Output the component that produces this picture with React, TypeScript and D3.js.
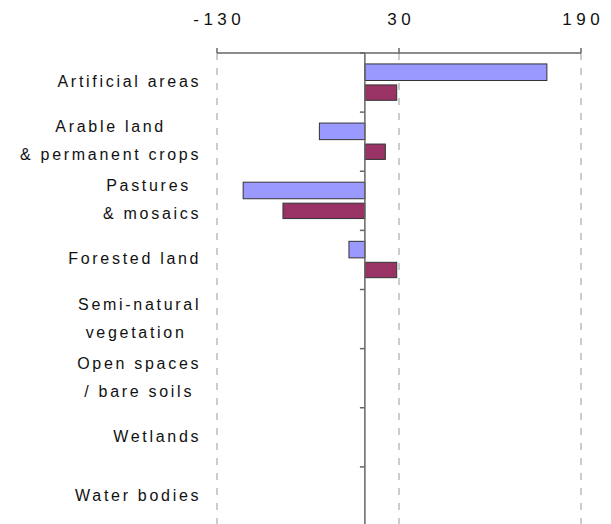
import React, { useEffect, useRef } from "react";
import * as d3 from "d3";

const categories: string[][] = [
  ["Artificial areas"],
  ["Arable land", "& permanent crops"],
  ["Pastures ", "& mosaics"],
  ["Forested land"],
  ["Semi-natural", "vegetation "],
  ["Open spaces", "/ bare soils"],
  ["Wetlands"],
  ["Water bodies"],
];
const seriesA: (number | null)[] = [160, -40, -107, -14, null, null, null, null];
const seriesB: (number | null)[] = [28, 18, -72, 28, null, null, null, null];
const tickValues: number[] = [-130, 30, 190];

const W = 611;
const H = 524;
const FONT = "'Liberation Sans', Arial, sans-serif";

export default function App() {
  const ref = useRef<SVGSVGElement | null>(null);

  useEffect(() => {
    const svg = d3.select(ref.current);
    svg.selectAll("*").remove();

    const x = d3.scaleLinear().domain([-130, 190]).range([217, 581]);
    const y = d3
      .scaleBand<number>()
      .domain(categories.map((_, i) => i))
      .range([53, 526])
      .paddingInner(0)
      .paddingOuter(0);
    const bw = y.bandwidth();

    // gridlines
    svg
      .append("g")
      .selectAll("line")
      .data(tickValues)
      .join("line")
      .attr("x1", (d) => x(d))
      .attr("x2", (d) => x(d))
      .attr("y1", 53)
      .attr("y2", H)
      .attr("stroke", "#999")
      .attr("stroke-width", 1)
      .attr("stroke-dasharray", "7,8");

    // bars
    const bars = svg.append("g");
    const drawSeries = (vals: (number | null)[], off: number, h: number, fill: string) => {
      bars
        .selectAll(null)
        .data(vals.map((v, i) => ({ v, i })).filter((d) => d.v !== null))
        .join("rect")
        .attr("x", (d) => Math.min(x(0), x(d.v as number)))
        .attr("width", (d) => Math.abs(x(d.v as number) - x(0)))
        .attr("y", (d) => (y(d.i) as number) + off * bw)
        .attr("height", h * bw)
        .attr("fill", fill)
        .attr("stroke", "#333")
        .attr("stroke-width", 1);
    };
    drawSeries(seriesA, 0.185, 0.28, "#9999FF");
    drawSeries(seriesB, 0.54, 0.26, "#993366");

    // top axis
    const axG = svg.append("g");
    axG
      .append("line")
      .attr("x1", x(-130))
      .attr("x2", x(190))
      .attr("y1", 53)
      .attr("y2", 53)
      .attr("stroke", "#666")
      .attr("stroke-width", 1.5);
    axG
      .selectAll("line.t")
      .data(tickValues)
      .join("line")
      .attr("class", "t")
      .attr("x1", (d) => x(d))
      .attr("x2", (d) => x(d))
      .attr("y1", 48)
      .attr("y2", 53)
      .attr("stroke", "#666")
      .attr("stroke-width", 1.5);
    const LS_T = 4.5;
    axG
      .selectAll("text")
      .data(tickValues)
      .join("text")
      .attr("x", (d) => x(d) + LS_T / 2)
      .attr("y", 24.5)
      .attr("text-anchor", "middle")
      .attr("font-family", FONT)
      .attr("font-size", 17)
      .attr("letter-spacing", LS_T)
      .attr("fill", "#111")
      .text((d) => String(d));

    // y axis
    const yG = svg.append("g");
    yG.append("line")
      .attr("x1", x(0))
      .attr("x2", x(0))
      .attr("y1", 53)
      .attr("y2", H)
      .attr("stroke", "#666")
      .attr("stroke-width", 1.5);
    yG.selectAll("line.t")
      .data(d3.range(categories.length + 1))
      .join("line")
      .attr("class", "t")
      .attr("x1", x(0) - 5)
      .attr("x2", x(0))
      .attr("y1", (i) => 53 + i * bw)
      .attr("y2", (i) => 53 + i * bw)
      .attr("stroke", "#666")
      .attr("stroke-width", 1.5);

    // category labels
    const LS = 2.7;
    const RIGHT = 198.5;
    const lblG = svg.append("g");
    categories.forEach((lines, i) => {
      const cy = (y(i) as number) + bw / 2;
      const texts = lines.map((ln, j) =>
        lblG
          .append("text")
          .attr("y", cy + 4.5 + (j - (lines.length - 1) / 2) * 28)
          .attr("text-anchor", "middle")
          .attr("font-family", FONT)
          .attr("font-size", 16)
          .attr("letter-spacing", LS)
          .attr("fill", "#111")
          .style("white-space", "pre")
          .text(ln)
      );
      const widths = texts.map((t) => (t.node() as SVGTextElement).getComputedTextLength() - LS);
      const maxW = Math.max(...widths);
      const center = RIGHT - maxW / 2;
      texts.forEach((t) => t.attr("x", center + LS / 2));
    });
  }, []);

  return (
    <svg
      ref={ref}
      width={W}
      height={H}
      style={{ position: "absolute", left: 0, top: 0, background: "#fff" }}
    />
  );
}
